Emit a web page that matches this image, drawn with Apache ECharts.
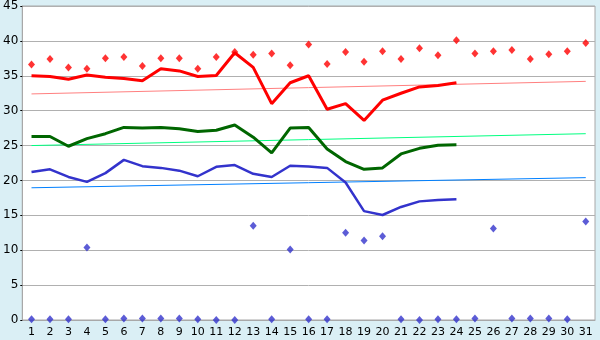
<!DOCTYPE html>
<html><head><meta charset="utf-8">
<script src="https://cdn.jsdelivr.net/npm/echarts@6/dist/echarts.min.js"></script>
<style>html,body{margin:0;padding:0;background:#daeff5}#c{width:600px;height:340px}</style>
</head><body><div id="c"></div>
<script>
var days = ['1','2','3','4','5','6','7','8','9','10','11','12','13','14','15','16','17','18','19','20','21','22','23','24','25','26','27','28','29','30','31'];
var yTicks = [0,5,10,15,20,25,30,35,40,45];
var maxLine = [35.0,34.9,34.5,35.1,34.8,34.6,34.3,36.0,35.7,34.9,35.05,38.3,36.2,31.0,34.0,35.0,30.2,31.0,28.6,31.5,32.5,33.4,33.6,34.0,null,null,null,null,null,null,null];
var meanLine = [26.3,26.3,24.9,26.0,26.7,27.6,27.5,27.6,27.4,27.0,27.2,27.95,26.2,23.95,27.5,27.6,24.5,22.7,21.6,21.8,23.8,24.6,25.05,25.1,null,null,null,null,null,null,null];
var minLine = [21.2,21.6,20.5,19.8,21.05,22.95,22.05,21.8,21.4,20.6,21.95,22.2,20.95,20.5,22.1,22.0,21.8,19.7,15.6,15.05,16.2,17.0,17.2,17.3,null,null,null,null,null,null,null];
var maxPoints = [36.6,37.4,36.2,36.0,37.5,37.7,36.4,37.5,37.5,36.0,37.7,38.4,38.0,38.2,36.5,39.5,36.7,38.4,37.0,38.5,37.4,38.95,37.95,40.1,38.2,38.5,38.7,37.4,38.1,38.5,39.7];
var minPoints = [0.1,0.1,0.1,10.4,0.1,0.2,0.2,0.2,0.2,0.1,0.0,0.0,13.5,0.1,10.1,0.1,0.1,12.5,11.4,12.0,0.1,0.0,0.1,0.1,0.2,13.1,0.2,0.2,0.2,0.1,14.1];
var maxTrend = [32.4,null,null,null,null,null,null,null,null,null,null,null,null,null,null,null,null,null,null,null,null,null,null,null,null,null,null,null,null,null,34.2];
var meanTrend = [25.0,null,null,null,null,null,null,null,null,null,null,null,null,null,null,null,null,null,null,null,null,null,null,null,null,null,null,null,null,null,26.7];
var minTrend = [18.95,null,null,null,null,null,null,null,null,null,null,null,null,null,null,null,null,null,null,null,null,null,null,null,null,null,null,null,null,null,20.4];

var chart = echarts.init(document.getElementById('c'));
function line(data, color, w, z){
  return {type:'line', data:data, showSymbol:false, symbol:'none', connectNulls:true, z:z,
    lineStyle:{color:color, width:w}, itemStyle:{color:color}, animation:false};
}
function pts(data, color){
  return {type:'scatter', data:data, symbol:'diamond', symbolSize:[7,8], z:10,
    itemStyle:{color:color}, animation:false};
}
chart.setOption({
  backgroundColor:'#daeff5',
  animation:false,
  grid:{left:20,right:5,top:5,bottom:20,show:true,backgroundColor:'#ffffff',borderColor:'#a8a8a8',borderWidth:1},
  xAxis:{type:'category',data:days,boundaryGap:true,
    axisLine:{lineStyle:{color:'#a8a8a8'}},
    axisTick:{alignWithLabel:true,length:5,lineStyle:{color:'#000'}},
    axisLabel:{color:'#000',fontFamily:'DejaVu Sans',fontSize:11,margin:7},
    splitLine:{show:false}},
  yAxis:{type:'value',min:yTicks[0],max:yTicks[yTicks.length-1],interval:5,
    axisLine:{show:true,lineStyle:{color:'#a8a8a8'}},
    axisTick:{show:true,length:2,lineStyle:{color:'#000'}},
    axisLabel:{color:'#000',fontFamily:'DejaVu Sans',fontSize:12,margin:4},
    splitLine:{lineStyle:{color:'#b0b0b0'}}},
  series:[
    line(maxTrend,'#ff8080',1,2),
    line(meanTrend,'#00ff80',1,2),
    line(minTrend,'#0080ff',1,2),
    line(maxLine,'#ff0000',3,5),
    line(meanLine,'#006600',3,5),
    line(minLine,'#3333cc',2.5,5),
    pts(maxPoints,'#ff0000'),
    pts(minPoints,'#3333cc')
  ]
});
</script></body></html>
